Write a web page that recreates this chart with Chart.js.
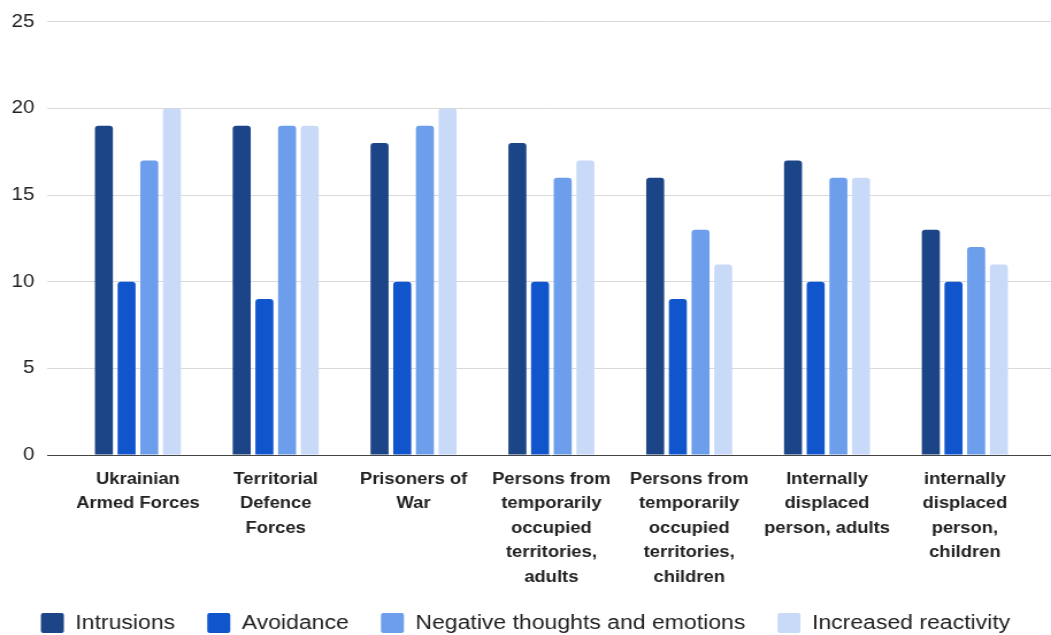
<!DOCTYPE html>
<html>
<head>
<meta charset="utf-8">
<title>Symptom clusters by group</title>
<script src="https://cdn.jsdelivr.net/npm/chart.js@4.4.1/dist/chart.umd.min.js"></script>
<style>
  html, body { margin: 0; padding: 0; background: #ffffff; overflow: hidden; }
</style>
</head>
<body>
<!-- The chart is laid out on a narrower canvas and widened to the page width. -->
<canvas id="chart" width="914" height="635" style="display:block;width:1051px;height:635px"></canvas>
<script>
const categories = [
  ["Ukrainian", "Armed Forces"],
  ["Territorial", "Defence", "Forces"],
  ["Prisoners of", "War"],
  ["Persons from", "temporarily", "occupied", "territories,", "adults"],
  ["Persons from", "temporarily", "occupied", "territories,", "children"],
  ["Internally", "displaced", "person, adults"],
  ["internally", "displaced", "person,", "children"]
];

const seriesNames = ["Intrusions", "Avoidance", "Negative thoughts and emotions", "Increased reactivity"];

const intrusions  = [19, 19, 18, 18, 16, 17, 13];
const avoidance   = [10,  9, 10, 10,  9, 10, 10];
const negative    = [17, 19, 19, 16, 13, 16, 12];
const reactivity  = [20, 19, 20, 17, 11, 16, 11];

const seriesColors = ["#1c4587", "#1155cc", "#6d9eeb", "#c9daf8"];

const yTicks = [0, 5, 10, 15, 20, 25];

const seriesValues = [intrusions, avoidance, negative, reactivity];

const gridColor = ctx => (ctx.tick && ctx.tick.value === 0) ? "#444444" : "#d9d9d9";

const canvas = document.getElementById("chart");

const chart = new Chart(canvas, {
  type: "bar",
  data: {
    labels: categories,
    datasets: seriesNames.map((name, i) => ({
      label: name,
      data: seriesValues[i],
      backgroundColor: seriesColors[i],
      borderWidth: 0,
      borderRadius: { topLeft: 3, topRight: 3, bottomLeft: 0, bottomRight: 0 },
      borderSkipped: "bottom",
      categoryPercentage: 0.658,
      barPercentage: 0.794
    }))
  },
  options: {
    responsive: false,
    animation: false,
    devicePixelRatio: 1,
    layout: { padding: { left: 0, right: 0, top: 0, bottom: -8 } },
    plugins: {
      legend: {
        position: "bottom",
        labels: {
          boxWidth: 20,
          boxHeight: 20,
          padding: 28,
          color: "#222222",
          font: { family: "'Liberation Sans', Arial, sans-serif", size: 20 },
          useBorderRadius: true,
          borderRadius: 2
        }
      },
      tooltip: { enabled: false }
    },
    scales: {
      x: {
        grid: { display: false, drawTicks: false },
        border: { display: false },
        ticks: {
          color: "#222222",
          padding: 12,
          maxRotation: 0,
          autoSkip: false,
          font: { family: "'Liberation Sans', Arial, sans-serif", size: 16, weight: "bold", lineHeight: 1.53 }
        },
        afterFit: s => { s.height = 130; }
      },
      y: {
        min: 0,
        max: 25,
        afterBuildTicks: s => { s.ticks = yTicks.map(v => ({ value: v })); },
        grid: { color: gridColor, lineWidth: 1, drawTicks: true, tickLength: 19 },
        border: { display: false },
        ticks: {
          color: "#222222",
          padding: 11,
          font: { family: "'Liberation Sans', Arial, sans-serif", size: 18 }
        },
        afterFit: s => { s.width = 60; }
      },
      yRight: {
        position: "right",
        min: 0,
        max: 25,
        afterBuildTicks: s => { s.ticks = yTicks.map(v => ({ value: v })); },
        grid: { color: gridColor, drawOnChartArea: false, drawTicks: true, tickLength: 15 },
        border: { display: false },
        ticks: { display: false },
        afterFit: s => { s.width = 15; }
      }
    }
  }
});

canvas.style.width = "1051px";
canvas.style.height = "635px";
</script>
</body>
</html>
